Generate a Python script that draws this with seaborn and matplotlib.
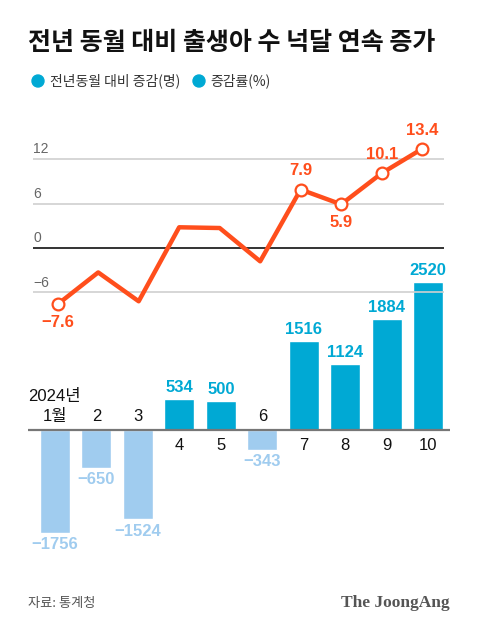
import numpy as np
import pandas as pd
import seaborn as sns
import matplotlib.pyplot as plt
from matplotlib.patches import Ellipse

# 데이터
months = ['1월', '2', '3', '4', '5', '6', '7', '8', '9', '10']
births_change = [-1756, -650, -1524, 534, 500, -343, 1516, 1124, 1884, 2520]
rate = [-7.6, -3.3, -7.2, 2.8, 2.7, -1.8, 7.9, 5.9, 10.1, 13.4]
rate_labeled = [True, False, False, False, False, False, True, True, True, True]
rate_label_above = [False, False, False, False, False, False, True, False, True, True]
yticks = [-6, 0, 6, 12]

sns.set_theme(style='white')
plt.rcParams['font.family'] = ['Noto Sans CJK KR', 'DejaVu Sans']
plt.rcParams['axes.unicode_minus'] = True
NUM = ['Liberation Sans', 'Noto Sans CJK KR']

BLUE = '#00a9d4'
LIGHT = '#a0ccef'
ORANGE = '#ff4e1c'
W, H = 480, 631

fig = plt.figure(figsize=(4.8, 6.31), dpi=100)
fig.patch.set_facecolor('white')

def box(x0, x1, ytop, ybot):
    return [x0 / W, 1 - ybot / H, (x1 - x0) / W, (ybot - ytop) / H]

# 막대 (증감, 명)
df = pd.DataFrame({'month': months, 'change': births_change,
                   'x': np.arange(len(months))})
ax_b = fig.add_axes(box(28, 450, 254, 547.4))
colors = [BLUE if v > 0 else LIGHT for v in births_change]
ax_b.bar(df['x'], df['change'], width=0.724, color=colors, zorder=2)
ax_b.set_xlim(-0.652, 9.53)
ax_b.set_ylim(-2000, 3000)
ax_b.axhline(0, color='#777777', lw=1.6, zorder=3)
ax_b.axis('off')
for x, v, m in zip(df['x'], df['change'], df['month']):
    if v > 0:
        ax_b.annotate(f'{v}', (x, v), xytext=(0, 3), textcoords='offset points',
                      ha='center', va='bottom', color=BLUE, fontsize=12,
                      fontweight='bold', family=NUM)
        ax_b.annotate(m, (x, 0), xytext=(0, -6), textcoords='offset points',
                      ha='center', va='top', color='#111111', fontsize=12,
                      family=NUM)
    else:
        ax_b.annotate(f'\u2212{abs(v)}', (x, v), xytext=(0, -3),
                      textcoords='offset points', ha='center', va='top',
                      color=LIGHT, fontsize=12, fontweight='bold', family=NUM)
        ax_b.annotate(m, (x, 0), xytext=(0, 4), textcoords='offset points',
                      ha='center', va='bottom', color='#111111', fontsize=12,
                      family=NUM)
ax_b.annotate('2024년', (-0.652, 0), xytext=(0, 19), textcoords='offset points',
              ha='left', va='bottom', color='#111111', fontsize=12, family=NUM)

# 선 (증감률, %)
ax_l = fig.add_axes(box(33, 444, 122.2, 322))
ax_l.patch.set_alpha(0)
ax_l.set_xlim(-0.61, 9.54)
ax_l.set_ylim(-10, 17)
for t in yticks:
    if t == 0:
        ax_l.axhline(t, color='#111111', lw=1.2, zorder=1)
    else:
        ax_l.axhline(t, color='#d0d0d0', lw=1.2, zorder=1)
    ax_l.annotate(f'{t}'.replace('-', '\u2212'), (-0.61, t), xytext=(0, 2),
                  textcoords='offset points', ha='left', va='bottom',
                  color='#666666', fontsize=10, family=NUM)
ax_l.axis('off')
sns.lineplot(x=np.arange(len(rate)), y=rate, ax=ax_l, color=ORANGE, lw=3.2,
             zorder=4)
lx = [i for i, f in enumerate(rate_labeled) if f]
ly = [rate[i] for i in lx]
ax_l.plot(lx, ly, 'o', ms=8.5, mfc='white', mec=ORANGE, mew=1.6, zorder=5)
for i in lx:
    up = rate_label_above[i]
    ax_l.annotate(f'{rate[i]}'.replace('-', '\u2212'), (i, rate[i]),
                  xytext=(0, 8 if up else -8), textcoords='offset points',
                  ha='center', va='bottom' if up else 'top', color=ORANGE,
                  fontsize=12, fontweight='bold', family=NUM)

# 제목, 범례, 출처
fig.text(28 / W, 1 - 43 / H, '전년 동월 대비 출생아 수 넉달 연속 증가',
         fontsize=18, fontweight='bold', color='#111111', va='center', ha='left')
for cx in (38, 199):
    fig.patches.append(Ellipse((cx / W, 1 - 81 / H), 12 / W, 12 / H, color=BLUE,
                               transform=fig.transFigure, figure=fig))
fig.text(50 / W, 1 - 81 / H, '전년동월 대비 증감(명)', fontsize=10,
         color='#333333', va='center', ha='left')
fig.text(210 / W, 1 - 81 / H, '증감률(%)', fontsize=10,
         color='#333333', va='center', ha='left')
fig.text(28 / W, 1 - 603 / H, '자료: 통계청', fontsize=9.5, color='#555555',
         va='center', ha='left')
fig.text(450 / W, 1 - 603 / H, 'The JoongAng', fontsize=12.5, color='#555555',
         family='Liberation Serif', fontweight='bold', va='center', ha='right')

fig.savefig('out.png', dpi=100, facecolor='white')
